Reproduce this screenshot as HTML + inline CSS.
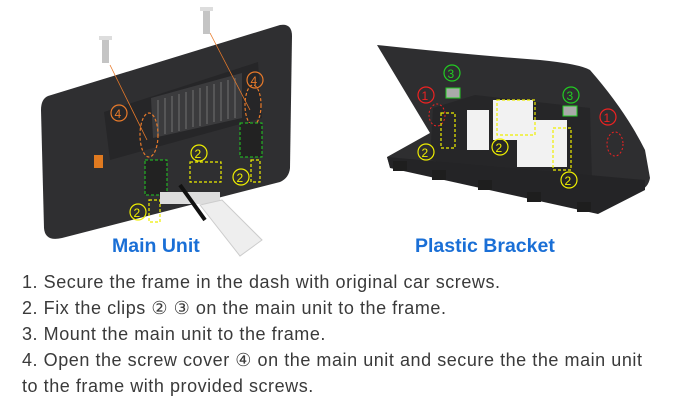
<!DOCTYPE html>
<html><head><meta charset="utf-8"><style>
body{margin:0;width:679px;height:400px;background:#fff;overflow:hidden;font-family:"Liberation Sans",sans-serif;position:relative}
.t{position:absolute;left:22px;font-size:18px;letter-spacing:0.55px;color:#3a3a3a;white-space:nowrap}
.h{position:absolute;top:235px;font-size:19.5px;color:#1a6fd6;font-weight:bold}
svg{position:absolute;left:0;top:0}
</style></head><body>
<svg width="679" height="270" viewBox="0 0 679 270">
<!-- main unit -->
<path d="M48 96 L280 25 Q292 23 292 36 L290 168 Q289 178 280 182 L62 238 Q45 242 44 228 L41 110 Q41 99 48 96Z" fill="#2f2f31"/>
<path d="M104 112 L258 62 L262 118 L110 160Z" fill="#262628"/>
<path d="M151 98 L242 73 L242 118 L153 138Z" fill="#3b3b3d"/>
<g stroke="#666" stroke-width="1.3">
<line x1="158" y1="100" x2="158" y2="136"/><line x1="165" y1="98" x2="165" y2="134"/><line x1="172" y1="96" x2="172" y2="132"/><line x1="179" y1="94" x2="179" y2="131"/><line x1="186" y1="92" x2="186" y2="129"/><line x1="193" y1="90" x2="193" y2="127"/><line x1="200" y1="88" x2="200" y2="126"/><line x1="207" y1="86" x2="207" y2="124"/><line x1="214" y1="84" x2="214" y2="122"/><line x1="221" y1="82" x2="221" y2="121"/><line x1="228" y1="80" x2="228" y2="119"/><line x1="235" y1="78" x2="235" y2="118"/>
</g>
<line x1="110" y1="65" x2="147" y2="140" stroke="#e87a2a" stroke-width="0.8"/>
<line x1="210" y1="33" x2="250" y2="110" stroke="#e87a2a" stroke-width="0.8"/>
<rect x="102" y="38" width="7" height="25" fill="#c4c4c4"/><rect x="99" y="36" width="13" height="4" fill="#ddd"/>
<rect x="203" y="9" width="7" height="25" fill="#c4c4c4"/><rect x="200" y="7" width="13" height="4" fill="#ddd"/>
<ellipse cx="149" cy="135" rx="9" ry="22" fill="none" stroke="#e87a2a" stroke-width="1.2" stroke-dasharray="3,2"/>
<ellipse cx="253" cy="105" rx="8" ry="20" fill="none" stroke="#e87a2a" stroke-width="1.2" stroke-dasharray="3,2"/>
<circle cx="119" cy="113" r="8" fill="none" stroke="#e87a2a" stroke-width="1.2"/><text x="114.5" y="118" font-size="12" fill="#e87a2a">4</text>
<circle cx="255" cy="80" r="8" fill="none" stroke="#e87a2a" stroke-width="1.2"/><text x="250.5" y="85" font-size="12" fill="#e87a2a">4</text>
<rect x="145" y="160" width="22" height="35" fill="#222" stroke="#2c2" stroke-dasharray="3,2"/>
<rect x="240" y="123" width="22" height="34" fill="#222" stroke="#2c2" stroke-dasharray="3,2"/>
<rect x="190" y="162" width="31" height="20" fill="none" stroke="#ee0" stroke-width="1.2" stroke-dasharray="3,2"/>
<rect x="149" y="200" width="11" height="22" fill="none" stroke="#ee0" stroke-width="1.2" stroke-dasharray="3,2"/>
<rect x="251" y="160" width="9" height="22" fill="none" stroke="#ee0" stroke-width="1.2" stroke-dasharray="3,2"/>
<circle cx="199" cy="153" r="8" fill="none" stroke="#ee0" stroke-width="1.2"/><text x="194.5" y="158" font-size="12" fill="#ee0">2</text>
<circle cx="241" cy="177" r="8" fill="none" stroke="#ee0" stroke-width="1.2"/><text x="236.5" y="182" font-size="12" fill="#ee0">2</text>
<circle cx="138" cy="212" r="8" fill="none" stroke="#ee0" stroke-width="1.2"/><text x="133.5" y="217" font-size="12" fill="#ee0">2</text>
<rect x="160" y="192" width="60" height="12" fill="#ddd"/>
<line x1="180" y1="185" x2="205" y2="220" stroke="#111" stroke-width="4"/>
<path d="M200 205 L222 200 L262 240 L240 256Z" fill="#eee" stroke="#ccc"/>
<rect x="94" y="155" width="9" height="13" fill="#e07a20"/>
<!-- bracket -->
<path d="M377 45 Q470 55 540 60 Q580 64 590 70 Q625 110 645 150 L650 178 Q648 188 640 190 L600 212 L390 167 L387 157 L430 133 Q410 100 377 45Z" fill="#2e2e30"/>
<path d="M433 108 L475 95 L590 108 L592 180 L555 188 L430 160Z" fill="#262628"/>
<rect x="467" y="110" width="22" height="40" fill="#f2f2f2"/>
<rect x="493" y="100" width="40" height="40" fill="#f2f2f2"/>
<rect x="517" y="120" width="50" height="47" fill="#f2f2f2"/>
<path d="M387 157 L645 180 L645 190 L598 214 L390 168Z" fill="#242426"/>
<g fill="#1e1e1e"><rect x="393" y="161" width="14" height="10"/><rect x="432" y="170" width="14" height="10"/><rect x="478" y="180" width="14" height="10"/><rect x="527" y="192" width="14" height="10"/><rect x="577" y="202" width="14" height="10"/></g>
<circle cx="426" cy="95" r="8" fill="none" stroke="#e22" stroke-width="1.2"/><text x="421.5" y="100" font-size="12" fill="#e22">1</text>
<circle cx="608" cy="117" r="8" fill="none" stroke="#e22" stroke-width="1.2"/><text x="603.5" y="122" font-size="12" fill="#e22">1</text>
<ellipse cx="437" cy="115" rx="8" ry="11" fill="none" stroke="#e22" stroke-dasharray="2,2"/>
<ellipse cx="615" cy="144" rx="8" ry="12" fill="none" stroke="#e22" stroke-dasharray="2,2"/>
<circle cx="452" cy="73" r="8" fill="none" stroke="#2c2" stroke-width="1.2"/><text x="447.5" y="78" font-size="12" fill="#2c2">3</text>
<circle cx="571" cy="95" r="8" fill="none" stroke="#2c2" stroke-width="1.2"/><text x="566.5" y="100" font-size="12" fill="#2c2">3</text>
<rect x="446" y="88" width="14" height="10" fill="#aaa" stroke="#2c2"/>
<rect x="563" y="106" width="14" height="10" fill="#aaa" stroke="#2c2"/>
<rect x="441" y="113" width="14" height="35" fill="none" stroke="#ee0" stroke-width="1.2" stroke-dasharray="3,2"/>
<rect x="497" y="100" width="38" height="35" fill="none" stroke="#ee0" stroke-width="1.2" stroke-dasharray="3,2"/>
<rect x="553" y="128" width="18" height="42" fill="none" stroke="#ee0" stroke-width="1.2" stroke-dasharray="3,2"/>
<circle cx="426" cy="152" r="8" fill="none" stroke="#ee0" stroke-width="1.2"/><text x="421.5" y="157" font-size="12" fill="#ee0">2</text>
<circle cx="500" cy="147" r="8" fill="none" stroke="#ee0" stroke-width="1.2"/><text x="495.5" y="152" font-size="12" fill="#ee0">2</text>
<circle cx="569" cy="180" r="8" fill="none" stroke="#ee0" stroke-width="1.2"/><text x="564.5" y="185" font-size="12" fill="#ee0">2</text>
</svg>
<div class="h" style="left:112px">Main Unit</div>
<div class="h" style="left:415px">Plastic Bracket</div>
<div class="t" style="top:272px">1. Secure the frame in the dash with original car screws.</div>
<div class="t" style="top:298px">2. Fix the clips ② ③ on the main unit to the frame.</div>
<div class="t" style="top:324px">3. Mount the main unit to the frame.</div>
<div class="t" style="top:350px">4. Open the screw cover ④ on the main unit and secure the the main unit</div>
<div class="t" style="top:376px">to the frame with provided screws.</div>
</body></html>
